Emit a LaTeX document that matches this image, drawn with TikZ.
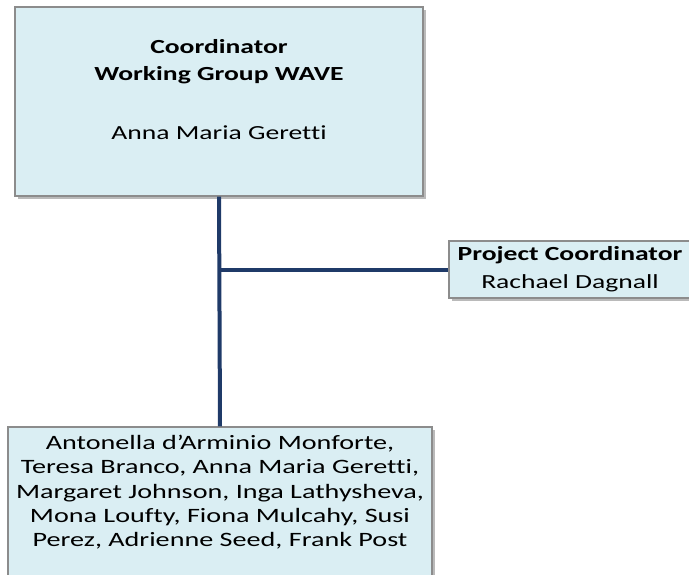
\documentclass[tikz,border=0pt]{standalone}
\usepackage{fontspec}
\setmainfont{Carlito}[FakeStretch=1.38, Ligatures=NoCommon]
\usepackage{tikz}
\usetikzlibrary{calc, positioning, shadows}
\definecolor{boxfill}{HTML}{DAEEF3}
\definecolor{boxline}{HTML}{8C8C8C}
\definecolor{linkcol}{HTML}{1F3A68}
\tikzstyle{orgbox}=[rectangle, draw=boxline, line width=1.3pt, fill=boxfill, align=center, inner sep=0pt, font=\fontsize{20}{27}\selectfont, drop shadow={shadow xshift=2.5pt, shadow yshift=-2.5pt, fill=black!45, opacity=.6}]
\tikzstyle{link}=[draw=linkcol, line width=4pt]

\begin{document}
\begin{tikzpicture}[x=1pt, y=-1pt]
		\useasboundingbox (0,0) rectangle (689,574);
		\clip (0,0) rectangle (689,574);
		% Draw the coordinator box
		\node[orgbox, minimum width=408pt, minimum height=189pt] (Coord) at (219,101.5)
		{\textbf{Coordinator}\\\textbf{Working Group WAVE}\\[32pt]Anna Maria Geretti\\[-2pt]\mbox{}};
		% Project coordinator on the right
		\node[orgbox, minimum width=242pt, minimum height=57pt, font=\fontsize{20}{28}\selectfont] (Proj) at (570,269.5)
		{\textbf{Project Coordinator}\\Rachael Dagnall};
		% Members of the working group
		\node[orgbox, minimum width=424pt, minimum height=156pt, font=\fontsize{20.4}{24.4}\selectfont] (Memb) at (220,505)
		{Antonella d’Arminio Monforte,\\Teresa Branco, Anna Maria Geretti,\\Margaret Johnson, Inga Lathysheva,\\Mona Loufty, Fiona Mulcahy, Susi\\Perez, Adrienne Seed, Frank Post\\[4pt]};
		% Connect the boxes
		\coordinate (J) at (Coord.south |- Proj.west);
		\path[link] (Coord.south) -- (Memb.north);
		\path[link] (J) -- (Proj.west);
	\end{tikzpicture}
\end{document}
